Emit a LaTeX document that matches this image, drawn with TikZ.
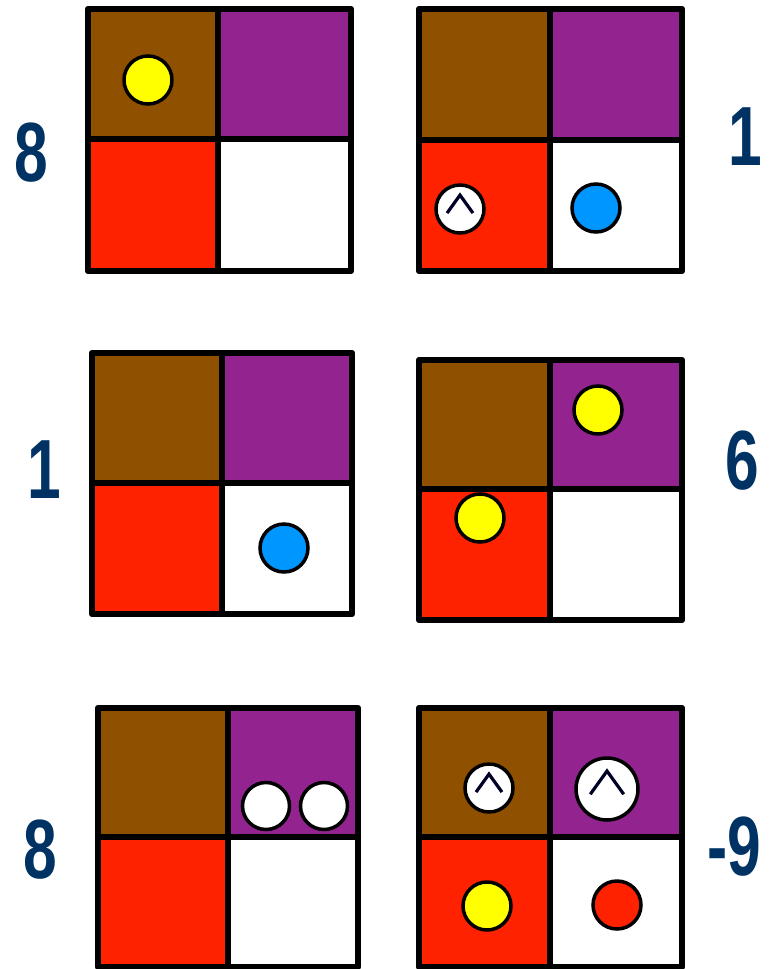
\documentclass[tikz,border=0pt]{standalone}
\usepackage{fontspec}
\setmainfont{Liberation Sans}
\definecolor{cbrown}{RGB}{143,80,0}
\definecolor{cpurple}{RGB}{146,35,143}
\definecolor{cred}{RGB}{255,34,0}
\definecolor{cblue}{RGB}{0,150,255}
\definecolor{cyellow}{RGB}{255,255,0}
\definecolor{cnavy}{RGB}{0,50,100}
\tikzset{
  gridline/.style={draw=black, line width=6.5pt, line join=round},
  piece/.style={draw=black, line width=3.5pt},
  caretline/.style={draw=black!85!blue, line width=3.2pt, line join=miter},
  lbl/.style={text=cnavy, font=\fontsize{84}{84}\selectfont\bfseries, inner sep=0pt}
}
\newcommand{\narrow}[1]{\scalebox{0.72}[1]{#1}}
\newcommand{\boardgrid}[6]{%
  \fill[cbrown] (#1,#2) rectangle (#3,#4);
  \fill[cpurple] (#3,#2) rectangle (#5,#4);
  \fill[cred] (#1,#4) rectangle (#3,#6);
  \fill[white] (#3,#4) rectangle (#5,#6);
  \draw[gridline] (#1,#2) rectangle (#5,#6);
  \draw[gridline] (#3,#2) -- (#3,#6) (#1,#4) -- (#5,#4);
}
\newcommand{\dotpiece}[4]{%
  \draw[piece, fill=#4] (#1,#2) circle[radius=#3];
}
\newcommand{\caretpiece}[3]{%
  \begin{scope}[shift={(#1,#2)}, scale=#3]
    \draw[piece, fill=white] (0,0) circle[radius=1];
    \draw[caretline] (-0.54,0.17) -- (0,-0.58) -- (0.54,0.17);
  \end{scope}
}
\begin{document}
\begin{tikzpicture}[x=1pt, y=-1pt]
\useasboundingbox (0,0) rectangle (769,969);
% top-left
\boardgrid{88}{9}{218}{139}{351}{271}
\dotpiece{148}{80}{24}{cyellow}
% top-right
\boardgrid{419}{9}{550}{140}{682}{271}
\caretpiece{460}{209}{24}
\dotpiece{596}{208}{24}{cblue}
% middle-left
\boardgrid{92}{353}{222}{483}{352}{614}
\dotpiece{284}{548}{24}{cblue}
% middle-right
\boardgrid{419}{360}{550}{489}{682}{620}
\dotpiece{598}{410}{24}{cyellow}
\dotpiece{480}{518}{24}{cyellow}
% bottom-left
\boardgrid{98}{708}{228}{837}{358}{967}
\dotpiece{266}{806}{23.5}{white}
\dotpiece{324}{806}{23.5}{white}
% bottom-right
\boardgrid{419}{708}{550}{837}{682}{967}
\caretpiece{489}{788}{24}
\caretpiece{607}{789}{31}
\dotpiece{487}{906}{24}{cyellow}
\dotpiece{617}{905}{24}{cred}
% labels
\node[lbl] (n1) at (31,153) {\narrow{8}};
\node[lbl] (n2) at (745,137) {\narrow{1}};
\node[lbl] (n3) at (44,470) {\narrow{1}};
\node[lbl] (n4) at (742,461) {\narrow{6}};
\node[lbl] (n5) at (40,850) {\narrow{8}};
\node[lbl] (n6) at (734,847) {\narrow{-9}};
\end{tikzpicture}
\end{document}
